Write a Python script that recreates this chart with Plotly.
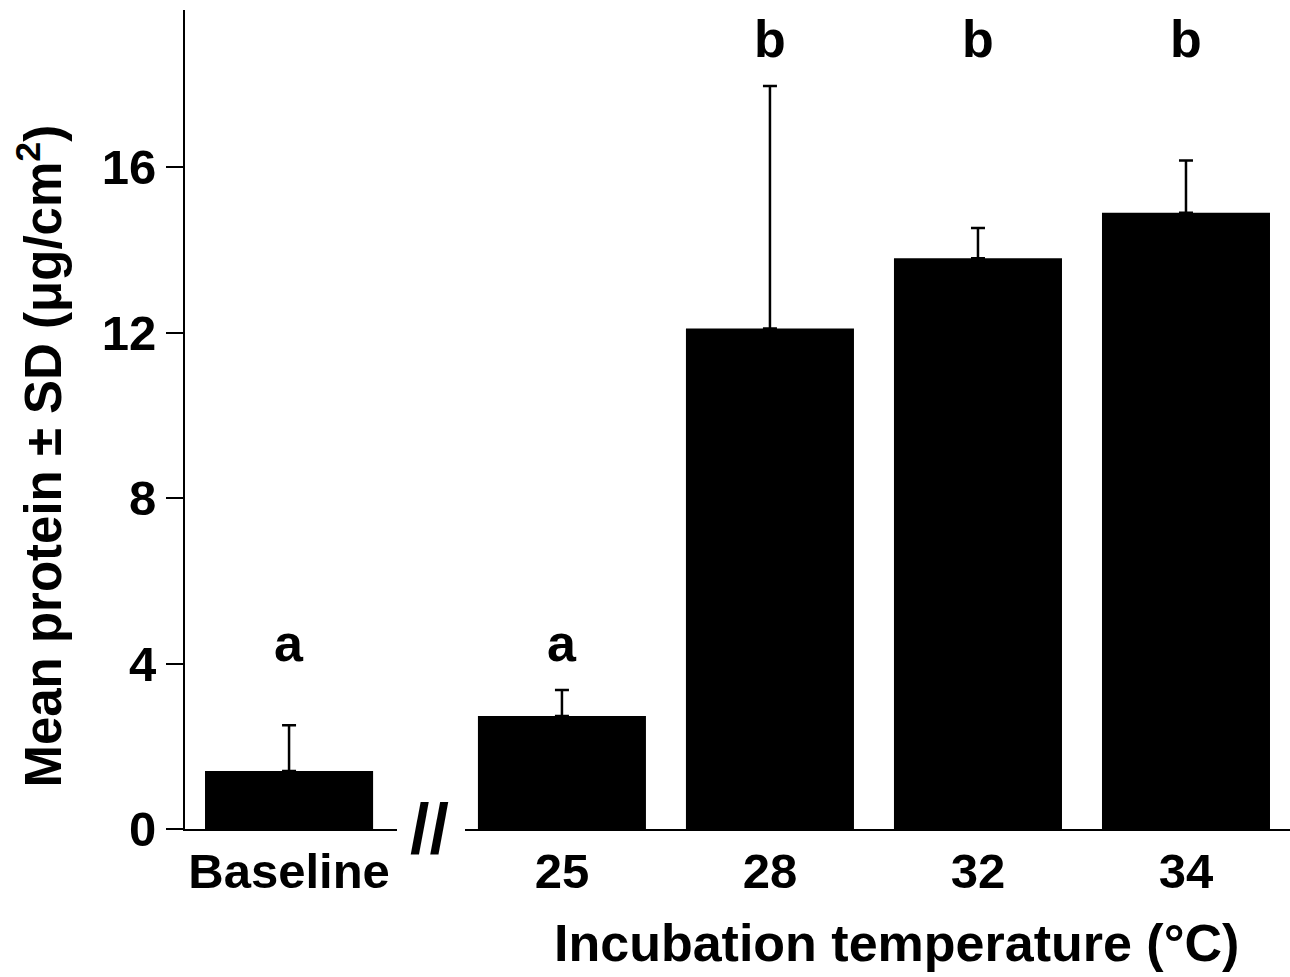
import plotly.graph_objects as go

# ---- data ----
categories = ["Baseline", "25", "28", "32", "34"]
means = [1.40, 2.73, 12.10, 13.80, 14.90]
sds = [1.11, 0.63, 5.86, 0.73, 1.26]
letters = ["a", "a", "b", "b", "b"]
y_ticks = [0, 4, 8, 12, 16]

FONT = "Liberation Sans, Arial, sans-serif"

fig = go.Figure()

# baseline (left of axis break)
fig.add_trace(go.Bar(
    x=categories[:1], y=means[:1], width=0.8077,
    marker=dict(color="black", line=dict(width=0)),
    error_y=dict(type="data", symmetric=False, array=sds[:1], arrayminus=[0],
                 color="black", thickness=2.5, width=7),
    xaxis="x", yaxis="y", showlegend=False,
))
# incubation temperatures (right of axis break)
fig.add_trace(go.Bar(
    x=categories[1:], y=means[1:], width=0.8077,
    marker=dict(color="black", line=dict(width=0)),
    error_y=dict(type="data", symmetric=False, array=sds[1:], arrayminus=[0] * 4,
                 color="black", thickness=2.5, width=7),
    xaxis="x2", yaxis="y", showlegend=False,
))

# significance letters: placed above the highest error bar within each letter group
tops = [m + s for m, s in zip(means, sds)]
group_top = {}
for L, t in zip(letters, tops):
    group_top[L] = max(group_top.get(L, 0), t)

annotations = []
for i, L in enumerate(letters):
    annotations.append(dict(
        x=0 if i == 0 else i - 1, y=group_top[L] + 0.65,
        xref="x" if i == 0 else "x2", yref="y",
        text=L, showarrow=False, xanchor="center", yanchor="bottom", yshift=-11,
        font=dict(family=FONT, size=52, color="black", weight="bold"),
    ))

# axis break marker
annotations.append(dict(
    x=0.2217, y=0, xref="paper", yref="paper", text="//", showarrow=False,
    xanchor="center", yanchor="middle",
    font=dict(family=FONT, size=70, color="black", weight="bold"),
))
# y title
annotations.append(dict(
    x=-0.131, y=0.455, xref="paper", yref="paper",
    text="Mean protein ± SD (μg/cm<sup>2</sup>)", textangle=-90, showarrow=False,
    xanchor="center", yanchor="middle",
    font=dict(family=FONT, size=51, color="black", weight="bold"),
))
# x title
annotations.append(dict(
    x=0.6443, y=-0.139, xref="paper", yref="paper",
    text="Incubation temperature (°C)", showarrow=False,
    xanchor="center", yanchor="middle",
    font=dict(family=FONT, size=52, color="black", weight="bold"),
))

tickfont = dict(family=FONT, size=49, color="black", weight="bold")

fig.update_layout(
    width=1290, height=977,
    margin=dict(l=185, r=0, t=10, b=148, autoexpand=False),
    paper_bgcolor="white", plot_bgcolor="white",
    font=dict(family=FONT, color="black"),
    annotations=annotations,
    xaxis=dict(domain=[0, 0.1919], type="category", range=[-0.5, 0.519],
               showline=True, linecolor="black", linewidth=2, ticks="",
               showgrid=False, zeroline=False, tickfont=tickfont,
               ticklabelstandoff=-2, anchor="y", automargin=False),
    xaxis2=dict(domain=[0.2534, 1], type="category", range=[-0.466, 3.5],
                showline=True, linecolor="black", linewidth=2, ticks="",
                showgrid=False, zeroline=False, tickfont=tickfont,
                ticklabelstandoff=-2, anchor="y", automargin=False),
    yaxis=dict(range=[0, 19.8], tickvals=y_ticks, ticktext=[str(v) for v in y_ticks],
               showline=True, linecolor="black", linewidth=2,
               ticks="outside", ticklen=17, tickwidth=2, tickcolor="black",
               showgrid=False, zeroline=False, tickfont=tickfont, anchor="x",
               automargin=False),
)

fig.write_html(
    "out.html",
    config={"displayModeBar": False},
    post_script="document.body.style.margin='0';document.body.style.overflow='hidden';",
)
